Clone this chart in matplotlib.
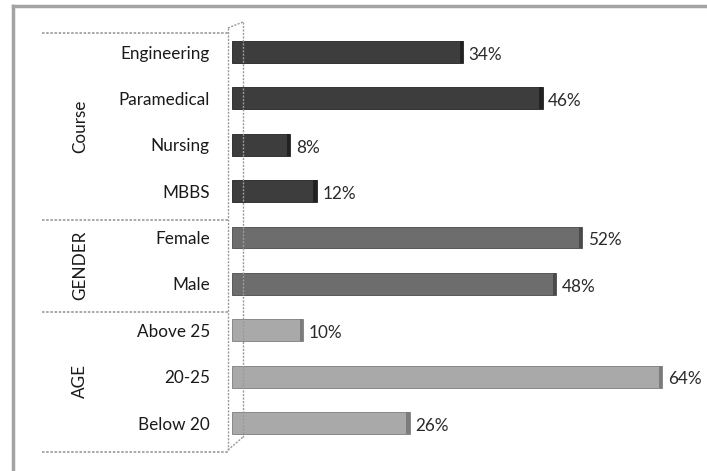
import matplotlib
matplotlib.use("Agg")
import matplotlib.pyplot as plt
import matplotlib.transforms as mtransforms
from matplotlib.lines import Line2D

# ---- data ----
categories = ["Below 20", "20-25", "Above 25", "Male", "Female",
              "MBBS", "Nursing", "Paramedical", "Engineering"]
values = [26, 64, 10, 48, 52, 12, 8, 46, 34]
groups = ["AGE", "AGE", "AGE", "GENDER", "GENDER",
          "Course", "Course", "Course", "Course"]
group_names = ["AGE", "GENDER", "Course"]
group_colors = {"AGE": "#a9a9a9", "GENDER": "#6d6d6d", "Course": "#3d3d3d"}
cap_colors = {"AGE": "#7c7c7c", "GENDER": "#4a4a4a", "Course": "#222222"}

plt.rcParams['font.family'] = ['Lato', 'DejaVu Sans']

W, H = 707, 471
fig = plt.figure(figsize=(W / 100, H / 100), dpi=100)
fig.patch.set_facecolor("white")


def fx(px):
    return px / W


def fy(py):
    return 1 - py / H


# outer border (top and left only, image cropped)
fig.add_artist(Line2D([fx(13), fx(707)], [fy(6), fy(6)], color="#a3a3a3", lw=2.5,
                      transform=fig.transFigure))
fig.add_artist(Line2D([fx(13), fx(13)], [fy(6), fy(471)], color="#a3a3a3", lw=2.5,
                      transform=fig.transFigure))

ax = fig.add_axes([fx(232), fy(452), fx(700) - fx(232), fy(33) - fy(452)])
xmin, xmax = -0.75, 69.7
ax.set_xlim(xmin, xmax)
ax.set_ylim(-0.625, 8.41)
for s in ax.spines.values():
    s.set_visible(False)
ax.set_xticks([])

FS = 12.3
TXT = "#1a1a1a"

ypos = list(range(len(categories)))
bh = 0.47
ax.barh(ypos, [v - xmin for v in values], left=xmin, height=bh,
        color=[group_colors[g] for g in groups],
        edgecolor=[cap_colors[g] for g in groups], linewidth=0.6, zorder=3)
# darker end face (3D look)
ax.barh(ypos, [0.5] * len(values), left=[v - 0.5 for v in values], height=bh,
        color=[cap_colors[g] for g in groups], linewidth=0, zorder=4)

for yi, v in zip(ypos, values):
    ax.annotate(f"{v}%", (v, yi), xytext=(4.0, -2), textcoords="offset points",
                ha="left", va="center", fontsize=FS, color="#2a2a2a")

ax.set_yticks(ypos)
ax.set_yticklabels(categories, fontsize=FS, color=TXT)
ax.tick_params(axis="y", length=0, pad=16)

# group labels and separators
blend = mtransforms.blended_transform_factory(fig.transFigure, ax.transData)
for gname in group_names:
    idx = [i for i, g in enumerate(groups) if g == gname]
    mid = sum(idx) / len(idx) - 0.1
    fig.text(fx(80), mid, gname, transform=blend, rotation=90,
             ha="center", va="center", fontsize=FS, color=TXT)

bounds = [8.41, 4.38, 2.39, -0.625]
for b in bounds:
    fig.add_artist(Line2D([fx(42), fx(228)], [b, b], transform=blend,
                          color="#9a9a9a", lw=1.2, ls=(0, (1.5, 1))))

# 3D back wall outline
wall = dict(color="#9a9a9a", lw=1.0, ls=(0, (1.5, 1)), transform=fig.transFigure)
fig.add_artist(Line2D([fx(228), fx(228)], [fy(28), fy(450)], **wall))
fig.add_artist(Line2D([fx(243), fx(243)], [fy(22), fy(437)], **wall))
fig.add_artist(Line2D([fx(228), fx(243)], [fy(28), fy(22)], **wall))
fig.add_artist(Line2D([fx(228), fx(243)], [fy(450), fy(437)], **wall))

fig.savefig("out.png", dpi=100)
